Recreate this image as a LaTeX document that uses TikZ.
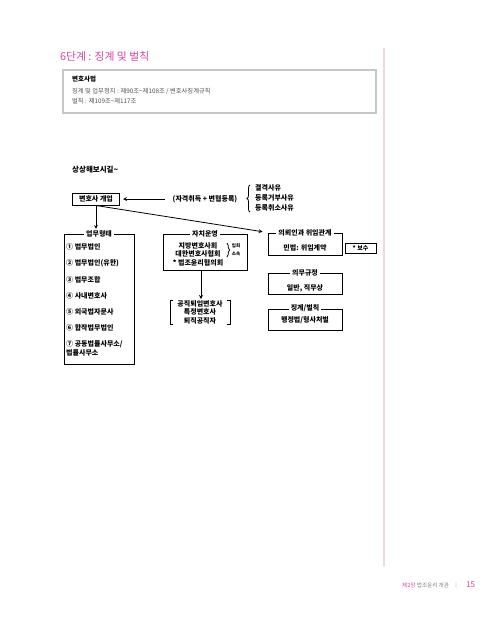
\documentclass[tikz,border=0pt]{standalone}
\usepackage{fontspec}
\setmainfont{Noto Sans CJK KR}
\usetikzlibrary{positioning,decorations.pathreplacing}
\definecolor{pagepink}{RGB}{214,70,160}
\definecolor{rulepink}{RGB}{242,214,232}
\definecolor{infogray}{RGB}{80,80,80}

\begin{document}
\begin{tikzpicture}[x=1pt,y=-1pt,
      box/.style={draw,line width=1pt,inner sep=0pt},
      box title/.style={fill=white,inner xsep=2pt,inner ysep=1pt,font=\bfseries\fontsize{7}{8}\selectfont},
      box text/.style={inner sep=1pt,align=center,font=\bfseries\fontsize{7}{8.5}\selectfont},
      small text/.style={inner sep=0pt,align=left,font=\fontsize{6.3}{7.5}\selectfont,text=infogray},
      arrow/.style={->,>=stealth,line width=0.8pt}]

      \useasboundingbox (0,0) rectangle (500,619);

      % page head and margin rule
      \node[anchor=west,inner sep=0pt,text=pagepink,font=\fontsize{10.8}{12}\selectfont] (pagetitle) at (60,56) {6단계 : 징계 및 벌칙};
      \draw[rulepink,line width=1.2pt] (384,48) -- (384,566);

      \node[draw=gray!45,line width=1.2pt,minimum width=313pt,minimum height=43pt,inner sep=0pt] (lawbox) at (219.5,91.5) {};
      \node[anchor=west,inner sep=0pt,font=\bfseries\fontsize{6.5}{7.5}\selectfont] (lawname) at (72,79) {변호사법};
      \node[small text,anchor=west] (lawdisc) at (72,91) {징계 및 업무정지 : 제90조\textasciitilde 제108조 / 변호사징계규칙};
      \node[small text,anchor=west] (lawpen) at (72,101) {벌칙 : 제109조\textasciitilde 제117조};

      \node[anchor=west,inner sep=0pt,font=\bfseries\fontsize{7.5}{9}\selectfont] (imagine) at (72,170) {상상해보시길\textasciitilde};

      % opening
      \node[box,minimum width=47pt,minimum height=12pt,font=\bfseries\fontsize{7}{8}\selectfont] (gaeup) at (96,199) {변호사 개업};
      \node[box text] (qualify) at (205,199) {(자격취득 + 변협등록)};
      \node[box text,align=left,anchor=west,font=\bfseries\fontsize{7}{10}\selectfont] (reasons) at (254,198) {결격사유\\등록거부사유\\등록취소사유};
      \draw[decorate,decoration={brace,amplitude=3pt},line width=0.8pt] (250,212) -- (250,185);
      \draw[arrow,shorten <=7pt,shorten >=3pt] (qualify) -- (gaeup);

      % work types
      \node[box,minimum width=70pt,minimum height=130pt] (work) at (99,299) {};
      \node[box title] (worktitle) at (work.north) {업무형태};
      \node[box text,align=left,anchor=north west,font=\bfseries\fontsize{7}{8.5}\selectfont] (worklist) at (65,242)
        {① 법무법인\\[8pt] ② 법무법인(유한)\\[8pt] ③ 법무조합\\[7.5pt] ④ 사내변호사\\[7.5pt] ⑤ 외국법자문사\\[7.5pt] ⑥ 합작법무법인\\[8pt] ⑦ 공동법률사무소/\\법률사무소};

      % self government
      \node[box,minimum width=84pt,minimum height=36pt] (selfgov) at (205,252) {};
      \node[box title] (selfgovtitle) at (selfgov.north) {자치운영};
      \node[box text] (bars) at (198,254) {지방변호사회\\대한변호사협회\\* 법조윤리협의회};
      \draw[decorate,decoration={brace,amplitude=2.5pt},line width=0.8pt] (227,243) -- (227,257);
      \node[inner sep=0pt,align=left,font=\bfseries\fontsize{4.5}{7.5}\selectfont] (join) at (236,250) {입회\\소속};
      \node[box text] (retired) at (200,312) {공직퇴임변호사\\특정변호사\\퇴직공직자};
      \draw[line width=0.8pt] (173,300) -- (170,300) -- (170,324) -- (173,324);
      \draw[line width=0.8pt] (227,300) -- (230,300) -- (230,324) -- (227,324);
      \draw[arrow] (selfgov.south -| bars.south) ++(3,0) coordinate (gov) -- (gov |- retired.north);

      % client relation, duties, sanctions
      \node[box,minimum width=74pt,minimum height=22pt] (client) at (305,244) {};
      \node[box title] (clienttitle) at (client.north) {의뢰인과 위임관계};
      \node[box text] (mandate) at (305,248) {민법: 위임계약};
      \node[box,minimum width=31pt,minimum height=10pt,font=\bfseries\fontsize{6}{7}\selectfont] (fee) at (360.5,248) {* 보수};

      \node[box,minimum width=74pt,minimum height=21pt] (duty) at (305,283.5) {};
      \node[box title] (dutytitle) at (duty.north) {의무규정};
      \node[box text] (general) at (305,288) {일반, 직무상};

      \node[box,minimum width=74pt,minimum height=21pt] (sanction) at (305,319.5) {};
      \node[box title] (sanctiontitle) at (sanction.north) {징계/벌칙};
      \node[box text] (penalty) at (305,320) {행정법/형사처벌};

      \draw[arrow] (gaeup.south) -- (gaeup.south |- worktitle.north);
      \draw[arrow,shorten >=5pt] (gaeup.south) -- (client.north west);

      % footer
      \node[anchor=west,inner sep=0pt,font=\fontsize{5.6}{6.5}\selectfont] (chapter) at (402,585) {\textcolor{pagepink}{제2장} \textcolor{gray}{법조윤리 개관}};
      \node[inner sep=0pt,text=gray!70,font=\fontsize{5.5}{6.5}\selectfont] (bar) at (456,585) {|};
      \node[anchor=west,inner sep=0pt,text=pagepink,font=\fontsize{8}{9}\selectfont] (pageno) at (466,585) {15};
\end{tikzpicture}
\end{document}
